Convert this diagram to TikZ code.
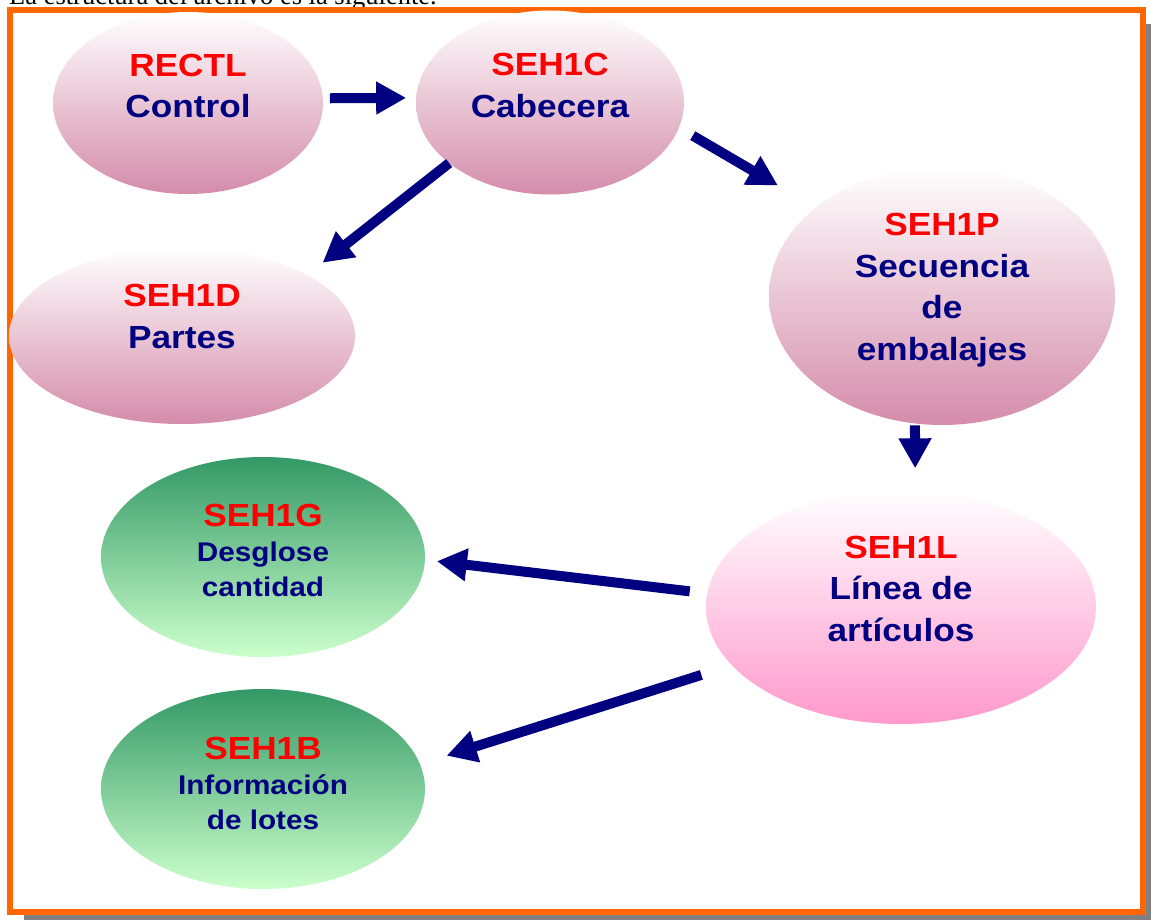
\documentclass[tikz,border=0pt]{standalone}
\usepackage{fontspec}
\usetikzlibrary{arrows.meta,shapes.geometric,positioning}
\newfontfamily\diagfont[FakeStretch=1.1]{Liberation Sans}
\newfontfamily\pagefont{Liberation Serif}
\definecolor{framecolor}{RGB}{255,102,0}
\definecolor{shadowgray}{RGB}{128,128,128}
\definecolor{keyred}{RGB}{255,0,0}
\definecolor{navytext}{RGB}{0,0,128}
\definecolor{mauve}{RGB}{212,140,170}
\definecolor{rosa}{RGB}{255,153,204}
\definecolor{greentop}{RGB}{51,153,102}
\definecolor{greenbottom}{RGB}{204,255,204}
\newcommand{\reckey}[1]{\textcolor{keyred}{#1}}
\tikzset{
    bubble/.style={
        ellipse,
        inner sep=0pt, outer sep=0pt,
        top color=white,
        bottom color=mauve
    },
    rosebubble/.style={bubble, bottom color=rosa},
    greenbubble/.style={bubble, top color=greentop, bottom color=greenbottom},
    caption/.style={
        align=center,
        text=navytext,
        inner sep=0pt,
        font=\diagfont\bfseries\fontsize{32}{41.5}\selectfont
    },
    smallcaption/.style={caption, font=\diagfont\bfseries\fontsize{27}{35}\selectfont},
    link/.style={draw=navytext, line width=10pt, -{Triangle[width=31pt,length=30pt]}}
}
\begin{document}
\begin{tikzpicture}[x=1pt, y=-1pt]
    \useasboundingbox (0,0) rectangle (1151,920);
    \clip (0,0) rectangle (1151,920);

    \node[anchor=base west, inner sep=0pt, font=\pagefont\fontsize{26.5}{30}\selectfont] (intro) at (9,5)
        {La estructura del archivo es la siguiente.};

    % frame with drop shadow
    \fill[shadowgray] (23.7,24.5) rectangle (1156.8,925.5);
    \draw[framecolor, line width=6pt, fill=white] (9.7,10.5) rectangle (1142.8,911.5);

    \node[bubble, minimum width=270pt, minimum height=182pt] (rectl) at (188,103) {};
    \node[bubble, minimum width=268pt, minimum height=184pt] (seh1c) at (550,102.5) {};
    \node[bubble, minimum width=346pt, minimum height=176pt] (seh1d) at (182,336) {};
    \node[bubble, minimum width=346pt, minimum height=258pt] (seh1p) at (942,296) {};
    \node[rosebubble, minimum width=390pt, minimum height=234pt] (seh1l) at (901,607) {};
    \node[greenbubble, minimum width=324pt, minimum height=200pt] (seh1g) at (263,557) {};
    \node[greenbubble, minimum width=324pt, minimum height=200pt] (seh1b) at (263,789) {};

    \node[caption] (rectl text) at ([yshift=17pt]rectl.center) {\reckey{RECTL}\\Control};
    \node[caption] (seh1c text) at ([yshift=17pt]seh1c.center) {\reckey{SEH1C}\\Cabecera};
    \node[caption] (seh1d text) at ([yshift=19.5pt]seh1d.center) {\reckey{SEH1D}\\Partes};
    \node[caption] (seh1p text) at ([yshift=6pt]seh1p.center) {\reckey{SEH1P}\\Secuencia\\de\\embalajes};
    \node[caption] (seh1l text) at ([yshift=18.5pt]seh1l.center) {\reckey{SEH1L}\\L\'inea de\\art\'iculos};
    \node[smallcaption] (seh1g text) at ([yshift=6.5pt]seh1g.center)
        {\reckey{\fontsize{32}{41.5}\selectfont SEH1G}\\Desglose\\cantidad};
    \node[smallcaption] (seh1b text) at ([yshift=5.5pt]seh1b.center)
        {\reckey{\fontsize{32}{41.5}\selectfont SEH1B}\\Informaci\'on\\de lotes};

    \draw[link, shorten <=7pt, shorten >=10pt] (rectl.2) -- (seh1c.178);
    \draw[link, shorten <=16pt, shorten >=44pt] (seh1c.-11) -- (seh1p.145);
    \draw[link, shorten >=20pt] (seh1c.211) -- (seh1d.26);
    \draw[link, shorten <=2pt, shorten >=22pt] (seh1p.258) -- (seh1l.83);
    \draw[link, shorten <=17.7pt, shorten >=12pt] (seh1l.176) -- (seh1g.-1);
    \draw[link, shorten <=32pt, shorten >=28pt] (seh1l.199) -- (seh1b.9);
\end{tikzpicture}
\end{document}
